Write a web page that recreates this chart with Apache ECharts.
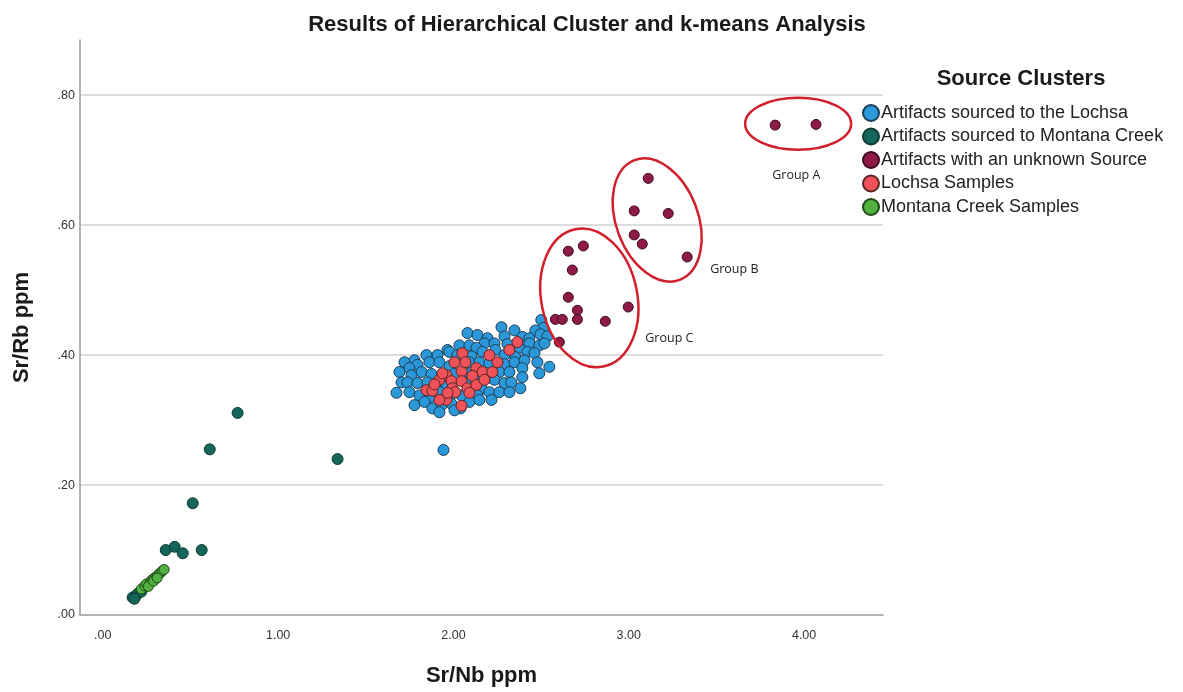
<!DOCTYPE html>
<html>
<head>
<meta charset="utf-8">
<script src="https://cdn.jsdelivr.net/npm/echarts@6/dist/echarts.min.js"></script>
<style>
html,body{margin:0;padding:0;background:#fff;}
#chart{width:1183px;height:692px;}
</style>
</head>
<body>
<div id="chart"></div>
<script>
// ---------------- DATA ----------------
const seriesNames = [
  'Artifacts sourced to the Lochsa',
  'Artifacts sourced to Montana Creek',
  'Artifacts with an unknown Source',
  'Lochsa Samples',
  'Montana Creek Samples'
];
const xTicks = [0, 1, 2, 3, 4];
const yTicks = [0, 0.2, 0.4, 0.6, 0.8];

// [Sr/Nb, Sr/Rb]
const lochsaArtifacts = [
  [2.501,0.454],[2.513,0.442],[2.274,0.443],[2.348,0.438],[2.467,0.438],
  [2.080,0.434],[2.137,0.431],[2.393,0.428],[2.496,0.432],[2.194,0.426],[2.433,0.426],[2.536,0.429],[2.291,0.429],
  [2.034,0.415],[2.177,0.418],[2.234,0.418],[2.433,0.418],[2.490,0.415],[1.966,0.408],[2.091,0.415],[2.308,0.417],[2.376,0.411],[2.131,0.411],[2.519,0.418],
  [1.909,0.400],[1.846,0.400],[1.977,0.405],[2.023,0.400],[2.103,0.398],[2.165,0.405],[2.239,0.408],[2.353,0.397],[2.422,0.405],[2.291,0.400],[2.462,0.403],[1.778,0.392],
  [1.721,0.389],[1.795,0.385],[1.863,0.389],[1.920,0.389],[1.977,0.383],[2.091,0.389],[2.148,0.389],[2.205,0.388],[2.291,0.386],[2.348,0.389],[2.405,0.392],[2.547,0.382],[1.749,0.380],[2.479,0.389],
  [1.692,0.374],[1.761,0.369],[1.818,0.374],[1.875,0.371],[2.006,0.371],[2.080,0.371],[2.137,0.368],[2.262,0.374],[2.319,0.374],[2.393,0.380],[2.490,0.372],[2.393,0.366],[2.194,0.365],
  [1.704,0.358],[1.738,0.358],[1.795,0.357],[1.852,0.358],[1.954,0.352],[2.068,0.358],[2.234,0.362],[2.291,0.357],[2.330,0.358],[2.382,0.349],[1.903,0.349],[2.160,0.349],
  [1.675,0.342],[1.749,0.343],[1.806,0.338],[1.920,0.343],[2.046,0.338],[2.137,0.338],[2.205,0.343],[2.262,0.343],[2.319,0.343],[1.863,0.334],[1.977,0.334],
  [1.778,0.323],[1.835,0.328],[1.880,0.318],[1.932,0.323],[1.989,0.325],[2.040,0.318],[2.091,0.328],[2.148,0.331],[2.217,0.331],[2.006,0.315],[1.920,0.312],
  [1.943,0.254]
];
const montanaArtifacts = [
  [0.769,0.311],[0.610,0.255],[1.339,0.240],[0.513,0.172],
  [0.359,0.100],[0.410,0.105],[0.456,0.095],[0.564,0.100],
  [0.17,0.027],[0.19,0.030],[0.20,0.033],[0.22,0.036],[0.18,0.025]
];
const unknownArtifacts = [
  [3.835,0.754],[4.068,0.755],
  [3.111,0.672],[3.031,0.622],[3.225,0.618],[3.031,0.585],[3.077,0.571],[3.333,0.551],
  [2.655,0.560],[2.741,0.568],[2.678,0.531],[2.655,0.489],[2.707,0.469],[2.707,0.455],
  [2.581,0.455],[2.621,0.455],[2.866,0.452],[2.997,0.474],[2.604,0.420]
];
const lochsaSamples = [
  [2.365,0.420],[2.319,0.408],[2.205,0.400],[2.051,0.403],[2.131,0.380],[2.165,0.374],
  [2.222,0.374],[2.046,0.375],[1.960,0.369],[1.920,0.362],[1.989,0.360],[2.046,0.360],
  [1.846,0.346],[1.880,0.345],[1.994,0.349],[2.080,0.349],[1.960,0.331],[1.920,0.331],
  [2.046,0.322],[2.108,0.368],[2.131,0.354],[2.177,0.362],[2.011,0.343],[2.091,0.342],
  [1.937,0.372],[1.892,0.355],[2.068,0.389],[2.251,0.389],[2.006,0.389],[1.966,0.342]
];
const montanaSamples = [
  [0.22,0.040],[0.24,0.045],[0.25,0.048],[0.27,0.050],[0.28,0.054],[0.29,0.056],
  [0.30,0.058],[0.31,0.060],[0.32,0.063],[0.33,0.065],[0.34,0.068],[0.35,0.070],
  [0.26,0.044],[0.29,0.052],[0.31,0.057]
];

// annotation ellipses (centre in data units)
const groupNames = ['Group A', 'Group B', 'Group C'];
const groupCentres = [[3.966,0.756],[3.162,0.608],[2.775,0.488]];
const groupLabelPos = [[3.818,0.677],[3.464,0.532],[3.094,0.425]];

// ---------------- STYLE ----------------
const colors = ['#2b98da', '#15665a', '#8e1a47', '#f0525a', '#52b041'];
const borders = ['#1d3b52', '#0e3b33', '#3d0b1f', '#5a2424', '#1f4a18'];
const ellipseShape = [
  {rx: 53, ry: 26, rot: 0},
  {rx: 41, ry: 64, rot: 0.36},
  {rx: 48, ry: 70, rot: 0.2}
];

const chart = echarts.init(document.getElementById('chart'));
const allData = [lochsaArtifacts, montanaArtifacts, unknownArtifacts, lochsaSamples, montanaSamples];
const sizes = [11, 11, 10, 11, 10];

const fmt = v => {
  const s = Number(v).toFixed(2);
  return s.startsWith('0') ? s.slice(1) : s;
};

const option = {
  backgroundColor: '#ffffff',
  animation: false,
  title: [{
    text: 'Results of Hierarchical Cluster and k-means Analysis',
    left: 582, top: 9, textAlign: 'center',
    textStyle: {fontFamily: 'Liberation Sans', fontSize: 22, fontWeight: 'bold', color: '#1a1a1a'}
  }, {
    text: 'Source Clusters',
    left: 1016, top: 63, textAlign: 'center',
    textStyle: {fontFamily: 'Liberation Sans', fontSize: 22, fontWeight: 'bold', color: '#1a1a1a'}
  }],
  legend: {
    orient: 'vertical',
    left: 857, top: 99,
    itemWidth: 16, itemHeight: 16, itemGap: 5.5,
    icon: 'circle',
    textStyle: {fontFamily: 'Liberation Sans', fontSize: 18, color: '#222', padding: [0,0,0,-3]},
    data: seriesNames
  },
  grid: {left: 80, right: 300, top: 40, bottom: 76},
  xAxis: {
    type: 'value', min: -0.13, max: 4.45,
    name: 'Sr/Nb ppm', nameLocation: 'middle', nameGap: 50,
    nameTextStyle: {fontFamily: 'Liberation Sans', fontSize: 22, fontWeight: 'bold', color: '#1a1a1a'},
    axisLine: {show: true, onZero: false, lineStyle: {color: '#9a9a9a', width: 1.5}},
    axisTick: {show: false},
    axisLabel: {customValues: xTicks, formatter: fmt, margin: 14, fontFamily: 'Liberation Sans', fontSize: 12.5, color: '#333'},
    splitLine: {show: false}
  },
  yAxis: {
    type: 'value', min: 0, max: 0.885, interval: 0.2,
    name: 'Sr/Rb ppm', nameLocation: 'middle', nameGap: 47,
    nameTextStyle: {fontFamily: 'Liberation Sans', fontSize: 22, fontWeight: 'bold', color: '#1a1a1a'},
    axisLine: {show: true, onZero: false, lineStyle: {color: '#9a9a9a', width: 1.5}},
    axisTick: {show: false},
    axisLabel: {customValues: yTicks, formatter: fmt, margin: 5, fontFamily: 'Liberation Sans', fontSize: 12.5, color: '#333'},
    splitLine: {show: true, showMinLine: false, showMaxLine: false, lineStyle: {color: '#d2d2d2', width: 1.5}}
  },
  series: seriesNames.map((n, i) => ({
    name: n, type: 'scatter', data: allData[i], symbolSize: sizes[i],
    itemStyle: {color: colors[i], borderColor: borders[i], borderWidth: 1, opacity: 1}
  }))
};
chart.setOption(option);

const graphics = [];
groupCentres.forEach((c, i) => {
  const p = chart.convertToPixel({gridIndex: 0}, c);
  const e = ellipseShape[i];
  graphics.push({
    type: 'ellipse', shape: {cx: 0, cy: 0, rx: e.rx, ry: e.ry},
    x: p[0], y: p[1], rotation: e.rot,
    style: {fill: 'none', stroke: '#d11f2b', lineWidth: 2.5}, z: 10
  });
  const lp = chart.convertToPixel({gridIndex: 0}, groupLabelPos[i]);
  graphics.push({
    type: 'text', x: lp[0], y: lp[1],
    style: {text: groupNames[i], fontFamily: 'Open Sans', fontSize: 12.5, fill: '#222', textVerticalAlign: 'middle'},
    z: 10
  });
});
chart.setOption({graphic: graphics});
</script>
</body>
</html>
